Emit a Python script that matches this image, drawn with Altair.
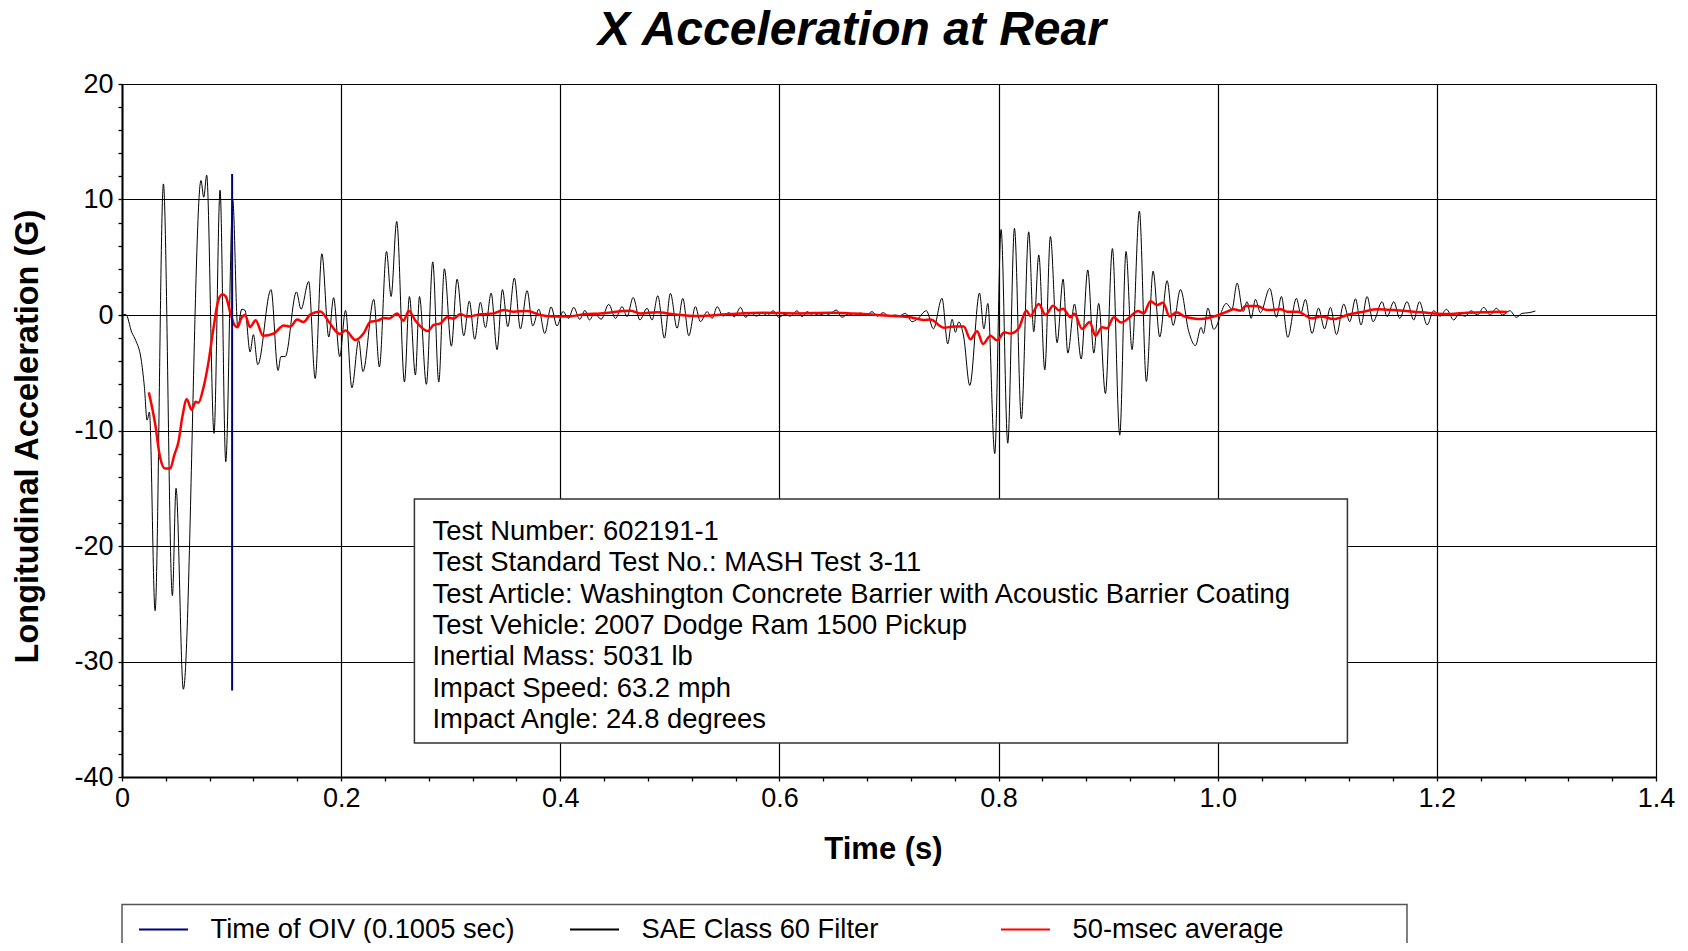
import altair as alt
import pandas as pd

# ---------------- data ----------------
black_t = [0.0000, 0.0035, 0.0089, 0.0125, 0.0174, 0.0204, 0.0229, 0.0250, 0.0302, 0.0378,
           0.0460, 0.0493, 0.0560, 0.0721, 0.0746, 0.0773, 0.0840, 0.0895, 0.0947, 0.1011,
           0.1056, 0.1093, 0.1123, 0.1169, 0.1199, 0.1239, 0.1360, 0.1424, 0.1450, 0.1490,
           0.1592, 0.1634, 0.1704, 0.1763, 0.1824, 0.1887, 0.1931, 0.1987, 0.2040, 0.2098,
           0.2160, 0.2199, 0.2298, 0.2349, 0.2414, 0.2456, 0.2507, 0.2578, 0.2623, 0.2678,
           0.2715, 0.2778, 0.2836, 0.2891, 0.2942, 0.3006, 0.3058, 0.3119, 0.3170, 0.3219,
           0.3271, 0.3317, 0.3369, 0.3423, 0.3472, 0.3521, 0.3581, 0.3636, 0.3697, 0.3749,
           0.3804, 0.3858, 0.3916, 0.3970, 0.4025, 0.4075, 0.4123, 0.4177, 0.4225, 0.4266,
           0.4312, 0.4373, 0.4442, 0.4504, 0.4564, 0.4610, 0.4665, 0.4726, 0.4792, 0.4838,
           0.4890, 0.4950, 0.5005, 0.5066, 0.5118, 0.5173, 0.5233, 0.5279, 0.5340, 0.5386,
           0.5432, 0.5485, 0.5537, 0.5590, 0.5645, 0.5691, 0.5741, 0.5790, 0.5842, 0.5890,
           0.5942, 0.5994, 0.6050, 0.6100, 0.6161, 0.6207, 0.6253, 0.6310, 0.6360, 0.6420,
           0.6470, 0.6520, 0.6571, 0.6630, 0.6680, 0.6739, 0.6790, 0.6845, 0.6895, 0.6946,
           0.7000, 0.7050, 0.7100, 0.7150, 0.7211, 0.7257, 0.7341, 0.7405, 0.7484, 0.7536,
           0.7576, 0.7606, 0.7636, 0.7682, 0.7737, 0.7826, 0.7866, 0.7902, 0.7965, 0.8023,
           0.8084, 0.8145, 0.8208, 0.8275, 0.8321, 0.8367, 0.8422, 0.8473, 0.8534, 0.8589,
           0.8632, 0.8693, 0.8754, 0.8814, 0.8869, 0.8914, 0.8975, 0.9039, 0.9106, 0.9163,
           0.9218, 0.9285, 0.9349, 0.9410, 0.9471, 0.9538, 0.9593, 0.9660, 0.9736, 0.9797,
           0.9848, 0.9870, 0.9910, 0.9964, 1.0078, 1.0130, 1.0177, 1.0232, 1.0268, 1.0305,
           1.0344, 1.0390, 1.0475, 1.0536, 1.0581, 1.0639, 1.0718, 1.0758, 1.0800, 1.0861,
           1.0920, 1.0975, 1.1029, 1.1084, 1.1150, 1.1205, 1.1257, 1.1308, 1.1363, 1.1418,
           1.1500, 1.1546, 1.1607, 1.1661, 1.1728, 1.1789, 1.1841, 1.1911, 1.1971, 1.2030,
           1.2087, 1.2154, 1.2200, 1.2260, 1.2312, 1.2370, 1.2428, 1.2485, 1.2544, 1.2600,
           1.2666, 1.2726, 1.2778, 1.2840, 1.2899]
black_g = [0.0, 0.05, -1.5, -2.2, -3.8, -6.2, -9.1, -8.4, -25.6, 11.35,
           -24.3, -15.0, -32.4, 11.65, 10.2, 12.1, -10.25, 10.8, -12.7, 9.95,
           -1.05, 0.5, 0.4, -3.2, -1.7, -4.3, 2.2, -4.8, -3.6, -3.6,
           2.0, 0.5, 2.9, -5.5, 5.3, -1.9, 1.5, -3.6, 0.4, -6.3,
           -2.2, -4.9, 1.35, -4.5, 5.5, 1.6, 8.1, -5.8, 1.6, -5.2,
           1.6, -6.0, 4.6, -5.8, 4.0, -2.7, 3.1, -1.8, 1.2, -2.1,
           1.1, -1.1, 1.9, -3.0, 2.2, -1.0, 3.2, -1.2, 2.1, -0.95,
           0.5, -1.6, 0.7, -0.95, 0.3, -0.3, 0.66, -0.38, 0.4, -0.43,
           0.14, -0.37, 0.92, -0.29, 0.72, -0.14, 1.52, -0.43, 0.58, -0.43,
           1.67, -2.0, 1.87, -1.15, 1.44, -1.8, 0.72, -0.58, 0.29, -0.29,
           0.72, -0.1, 0.2, -0.15, 0.66, -0.2, 0.17, -0.1, 0.17, -0.05,
           0.37, -0.2, 0.05, -0.1, 0.37, -0.14, 0.29, -0.05, 0.1, -0.05,
           0.15, 0.43, -0.2, 0.1, -0.05, 0.17, -0.05, 0.29, -0.1, 0.2,
           -0.1, 0.0, -0.05, 0.14, -0.58, -0.37, 0.37, -1.2, 1.44, -2.5,
           -0.37, -1.5, -0.6, -1.9, -6.1, 1.9, -1.2, 1.0, -12.0, 7.4,
           -11.1, 7.5, -9.0, 7.2, -1.45, 5.2, -4.75, 6.8, -2.4, 3.1,
           -3.3, 0.95, -3.8, 3.9, -3.3, 1.0, -6.8, 5.75, -10.4, 5.5,
           -3.0, 9.0, -5.75, 3.8, -1.9, 2.97, -0.9, 2.2, -1.45, -2.65,
           -1.07, -1.6, 0.6, -1.24, 1.0, 0.5, 2.76, 0.29, 1.15, -0.29,
           1.35, 0.2, 2.3, -0.2, 1.6, -1.93, 1.44, 0.14, 1.35, -1.6,
           0.6, -1.2, 0.66, -1.7, 0.95, -0.58, 1.4, -0.86, 1.6, -0.58,
           1.15, -0.14, 1.15, -0.29, 1.15, -0.43, 1.15, -0.86, 0.37, -0.1,
           0.49, -0.43, 0.05, -0.1, 0.37, 0.0, 0.66, 0.0, 0.58, 0.0,
           0.37, -0.2, 0.14, 0.2, 0.34]

red_t = [0.0245, 0.0302, 0.0347, 0.0393, 0.0439, 0.0478, 0.0515, 0.0551, 0.0591, 0.0636,
         0.0673, 0.0697, 0.0743, 0.0789, 0.0834, 0.0880, 0.0916, 0.0947, 0.0986, 0.1026,
         0.1056, 0.1087, 0.1123, 0.1169, 0.1220, 0.1287, 0.1385, 0.1476, 0.1537, 0.1598,
         0.1658, 0.1720, 0.1811, 0.1887, 0.1987, 0.2040, 0.2130, 0.2206, 0.2267, 0.2334,
         0.2389, 0.2440, 0.2510, 0.2570, 0.2617, 0.2678, 0.2791, 0.2845, 0.2906, 0.2967,
         0.3027, 0.3088, 0.3149, 0.3271, 0.3393, 0.3484, 0.3575, 0.3697, 0.3819, 0.3941,
         0.4062, 0.4214, 0.4366, 0.4640, 0.4731, 0.4883, 0.5036, 0.5248, 0.5553, 0.5857,
         0.6161, 0.6465, 0.6769, 0.7044, 0.7195, 0.7317, 0.7378, 0.7500, 0.7591, 0.7682,
         0.7743, 0.7804, 0.7858, 0.7926, 0.7987, 0.8053, 0.8108, 0.8184, 0.8254, 0.8290,
         0.8367, 0.8428, 0.8498, 0.8550, 0.8589, 0.8656, 0.8692, 0.8762, 0.8832, 0.8884,
         0.8945, 0.8990, 0.9051, 0.9118, 0.9203, 0.9270, 0.9325, 0.9386, 0.9447, 0.9501,
         0.9562, 0.9623, 0.9690, 0.9781, 0.9842, 0.9934, 1.0009, 1.0086, 1.0147, 1.0208,
         1.0253, 1.0359, 1.0451, 1.0573, 1.0634, 1.0726, 1.0861, 1.0938, 1.1060, 1.1180,
         1.1333, 1.1455, 1.1607, 1.1790, 1.1972, 1.2124, 1.2276, 1.2428, 1.2580, 1.2641]
red_g = [-6.7, -9.4, -12.3, -13.3, -13.3, -12.1, -11.0, -8.8, -7.3, -8.2,
         -7.5, -7.6, -6.3, -4.1, -1.2, 1.3, 1.8, 1.6, 0.3, -0.86,
         -1.05, -0.3, 0.0, -1.05, -0.45, -1.8, -1.6, -0.9, -1.0, -0.4,
         -0.6, 0.05, 0.3, -0.58, -1.64, -1.35, -2.16, -1.58, -0.58, -0.49,
         -0.25, -0.3, 0.14, -0.49, 0.37, -0.49, -1.38, -0.86, -0.72, -0.2,
         -0.32, 0.09, -0.14, 0.06, 0.14, 0.43, 0.29, 0.35, 0.0, -0.14,
         -0.14, 0.06, 0.14, 0.37, 0.14, 0.23, 0.06, -0.09, 0.09, 0.2,
         0.14, 0.2, 0.09, -0.09, -0.2, -0.43, -0.4, -1.1, -1.0, -1.0,
         -2.1, -1.4, -2.5, -1.8, -2.2, -1.5, -1.6, -1.15, 0.4, -0.1,
         0.95, 0.0, 0.8, 0.4, 0.55, -0.2, 0.1, -1.2, -0.6, -1.8,
         -1.05, -1.15, -0.2, -0.66, -0.14, 0.35, 0.14, 1.2, 0.86, 1.07,
         -0.14, 0.23, -0.09, -0.3, -0.35, -0.2, 0.0, 0.29, 0.49, 0.37,
         0.78, 0.78, 0.43, 0.49, 0.29, 0.29, -0.29, -0.14, -0.35, 0.0,
         0.29, 0.49, 0.43, 0.29, 0.14, 0.09, 0.2, 0.23, 0.29, 0.26]

oiv_t = [0.1005, 0.1005]
oiv_g = [12.2, -32.5]

series_names = ["Time of OIV (0.1005 sec)", "SAE Class 60 Filter", "50-msec average"]
series_colors = ["#000080", "#000000", "#FF0000"]

x_tick_values = [round(0.04 * i, 2) for i in range(36)]
y_tick_values = list(range(-40, 21, 2))

chart_title = "X Acceleration at Rear"
info_lines = [
    "Test Number: 602191-1",
    "Test Standard Test No.: MASH Test 3-11",
    "Test Article: Washington Concrete Barrier with Acoustic Barrier Coating",
    "Test Vehicle: 2007 Dodge Ram 1500 Pickup",
    "Inertial Mass: 5031 lb",
    "Impact Speed: 63.2 mph",
    "Impact Angle: 24.8 degrees",
]

FONT = "Liberation Sans"

df_black = pd.DataFrame({"t": black_t, "g": black_g, "series": series_names[1]})
df_red = pd.DataFrame({"t": red_t, "g": red_g, "series": series_names[2]})
df_oiv = pd.DataFrame({"t": oiv_t, "g": oiv_g, "series": series_names[0]})
one = pd.DataFrame({"k": [0]})

x_major = "abs(datum.value*5 - round(datum.value*5)) < 0.001"
y_major = "datum.value % 10 == 0"

x_enc = alt.X(
    "t:Q",
    scale=alt.Scale(domain=[0, 1.4], nice=False, zero=False),
    axis=alt.Axis(
        title="Time (s)",
        values=x_tick_values,
        labelExpr=f"{x_major} ? (datum.value == 0 ? '0' : format(datum.value, '.1f')) : ''",
        grid=True, gridColor="black", gridWidth=1.2,
        gridOpacity={"condition": {"test": x_major, "value": 1}, "value": 0},
        ticks=True, tickSize=4, tickColor="black", tickWidth=1.3,
        domainColor="black", domainWidth=2,
        labelFont=FONT, labelFontSize=27, labelColor="black", labelPadding=4,
        labelFlush=False, labelOverlap=False,
        titleFont=FONT, titleFontSize=31, titleFontWeight="bold", titleColor="black",
        titleX=761, titleY=81, titleAlign="center", titleBaseline="alphabetic",
    ),
)
y_enc = alt.Y(
    "g:Q",
    scale=alt.Scale(domain=[-40, 20], nice=False, zero=False),
    axis=alt.Axis(
        title="Longitudinal Acceleration (G)",
        values=y_tick_values,
        labelExpr=f"{y_major} ? '' + datum.value : ''",
        grid=True, gridColor="black", gridWidth=1.2,
        gridOpacity={"condition": {"test": y_major, "value": 1}, "value": 0},
        ticks=True, tickSize=4, tickColor="black", tickWidth=1.3,
        domainColor="black", domainWidth=2,
        labelFont=FONT, labelFontSize=27, labelColor="black", labelPadding=5,
        labelFlush=False, labelOverlap=False,
        titleFont=FONT, titleFontSize=32.5, titleFontWeight="bold", titleColor="black",
        titleX=-85, titleY=352, titleAngle=270, titleAlign="center",
        titleBaseline="alphabetic",
    ),
)

legend = alt.Legend(
    orient="none", legendX=0, legendY=820, direction="horizontal", columns=3,
    gridAlign="all", columnPadding=38, title=None, symbolType="stroke",
    symbolSize=2401, symbolStrokeWidth=2, symbolOffset=16, labelOffset=21.6,
    labelFont=FONT, labelFontSize=27.3, labelColor="black", labelLimit=800, padding=0,
)
color_enc = alt.Color(
    "series:N",
    scale=alt.Scale(domain=series_names, range=series_colors),
    legend=legend,
)

legend_frame = alt.Chart(one).mark_rect(fill="white", stroke="#555555", strokeWidth=1.5).encode(
    x=alt.value(0), x2=alt.value(1285), y=alt.value(820.5), y2=alt.value(900)
)

black_line = alt.Chart(df_black).mark_line(
    strokeWidth=1, interpolate="monotone"
).encode(x=x_enc, y=y_enc, color=color_enc)

red_line = alt.Chart(df_red).mark_line(
    strokeWidth=2.5, interpolate="monotone"
).encode(x=x_enc, y=y_enc, color=color_enc)

oiv_line = alt.Chart(df_oiv).mark_line(strokeWidth=2).encode(x=x_enc, y=y_enc, color=color_enc)

info_box = alt.Chart(one).mark_rect(fill="white", stroke="#333333", strokeWidth=1.5).encode(
    x=alt.value(292.4), x2=alt.value(1225.4), y=alt.value(415), y2=alt.value(659)
)
info_text = alt.Chart(one).mark_text(
    align="left", baseline="alphabetic", font=FONT, fontSize=27.4, lineHeight=31.3, color="black"
).encode(x=alt.value(310.5), y=alt.value(456), text=alt.value(info_lines))

title_text = alt.Chart(one).mark_text(
    align="center", baseline="alphabetic", font=FONT, fontSize=48, fontWeight="bold",
    fontStyle="italic", color="black"
).encode(x=alt.value(730), y=alt.value(-39.5), text=alt.value(chart_title))

chart = alt.layer(
    legend_frame, black_line, red_line, oiv_line, info_box, info_text, title_text
).properties(
    width=1534,
    height=693,
    padding={"left": 114, "top": 76, "right": 24, "bottom": 166},
    autosize=alt.AutoSizeParams(type="none"),
).configure_view(stroke="black", strokeWidth=1.5).configure(background="white")

chart.save("out.html", embed_options={"renderer": "svg", "actions": False})
